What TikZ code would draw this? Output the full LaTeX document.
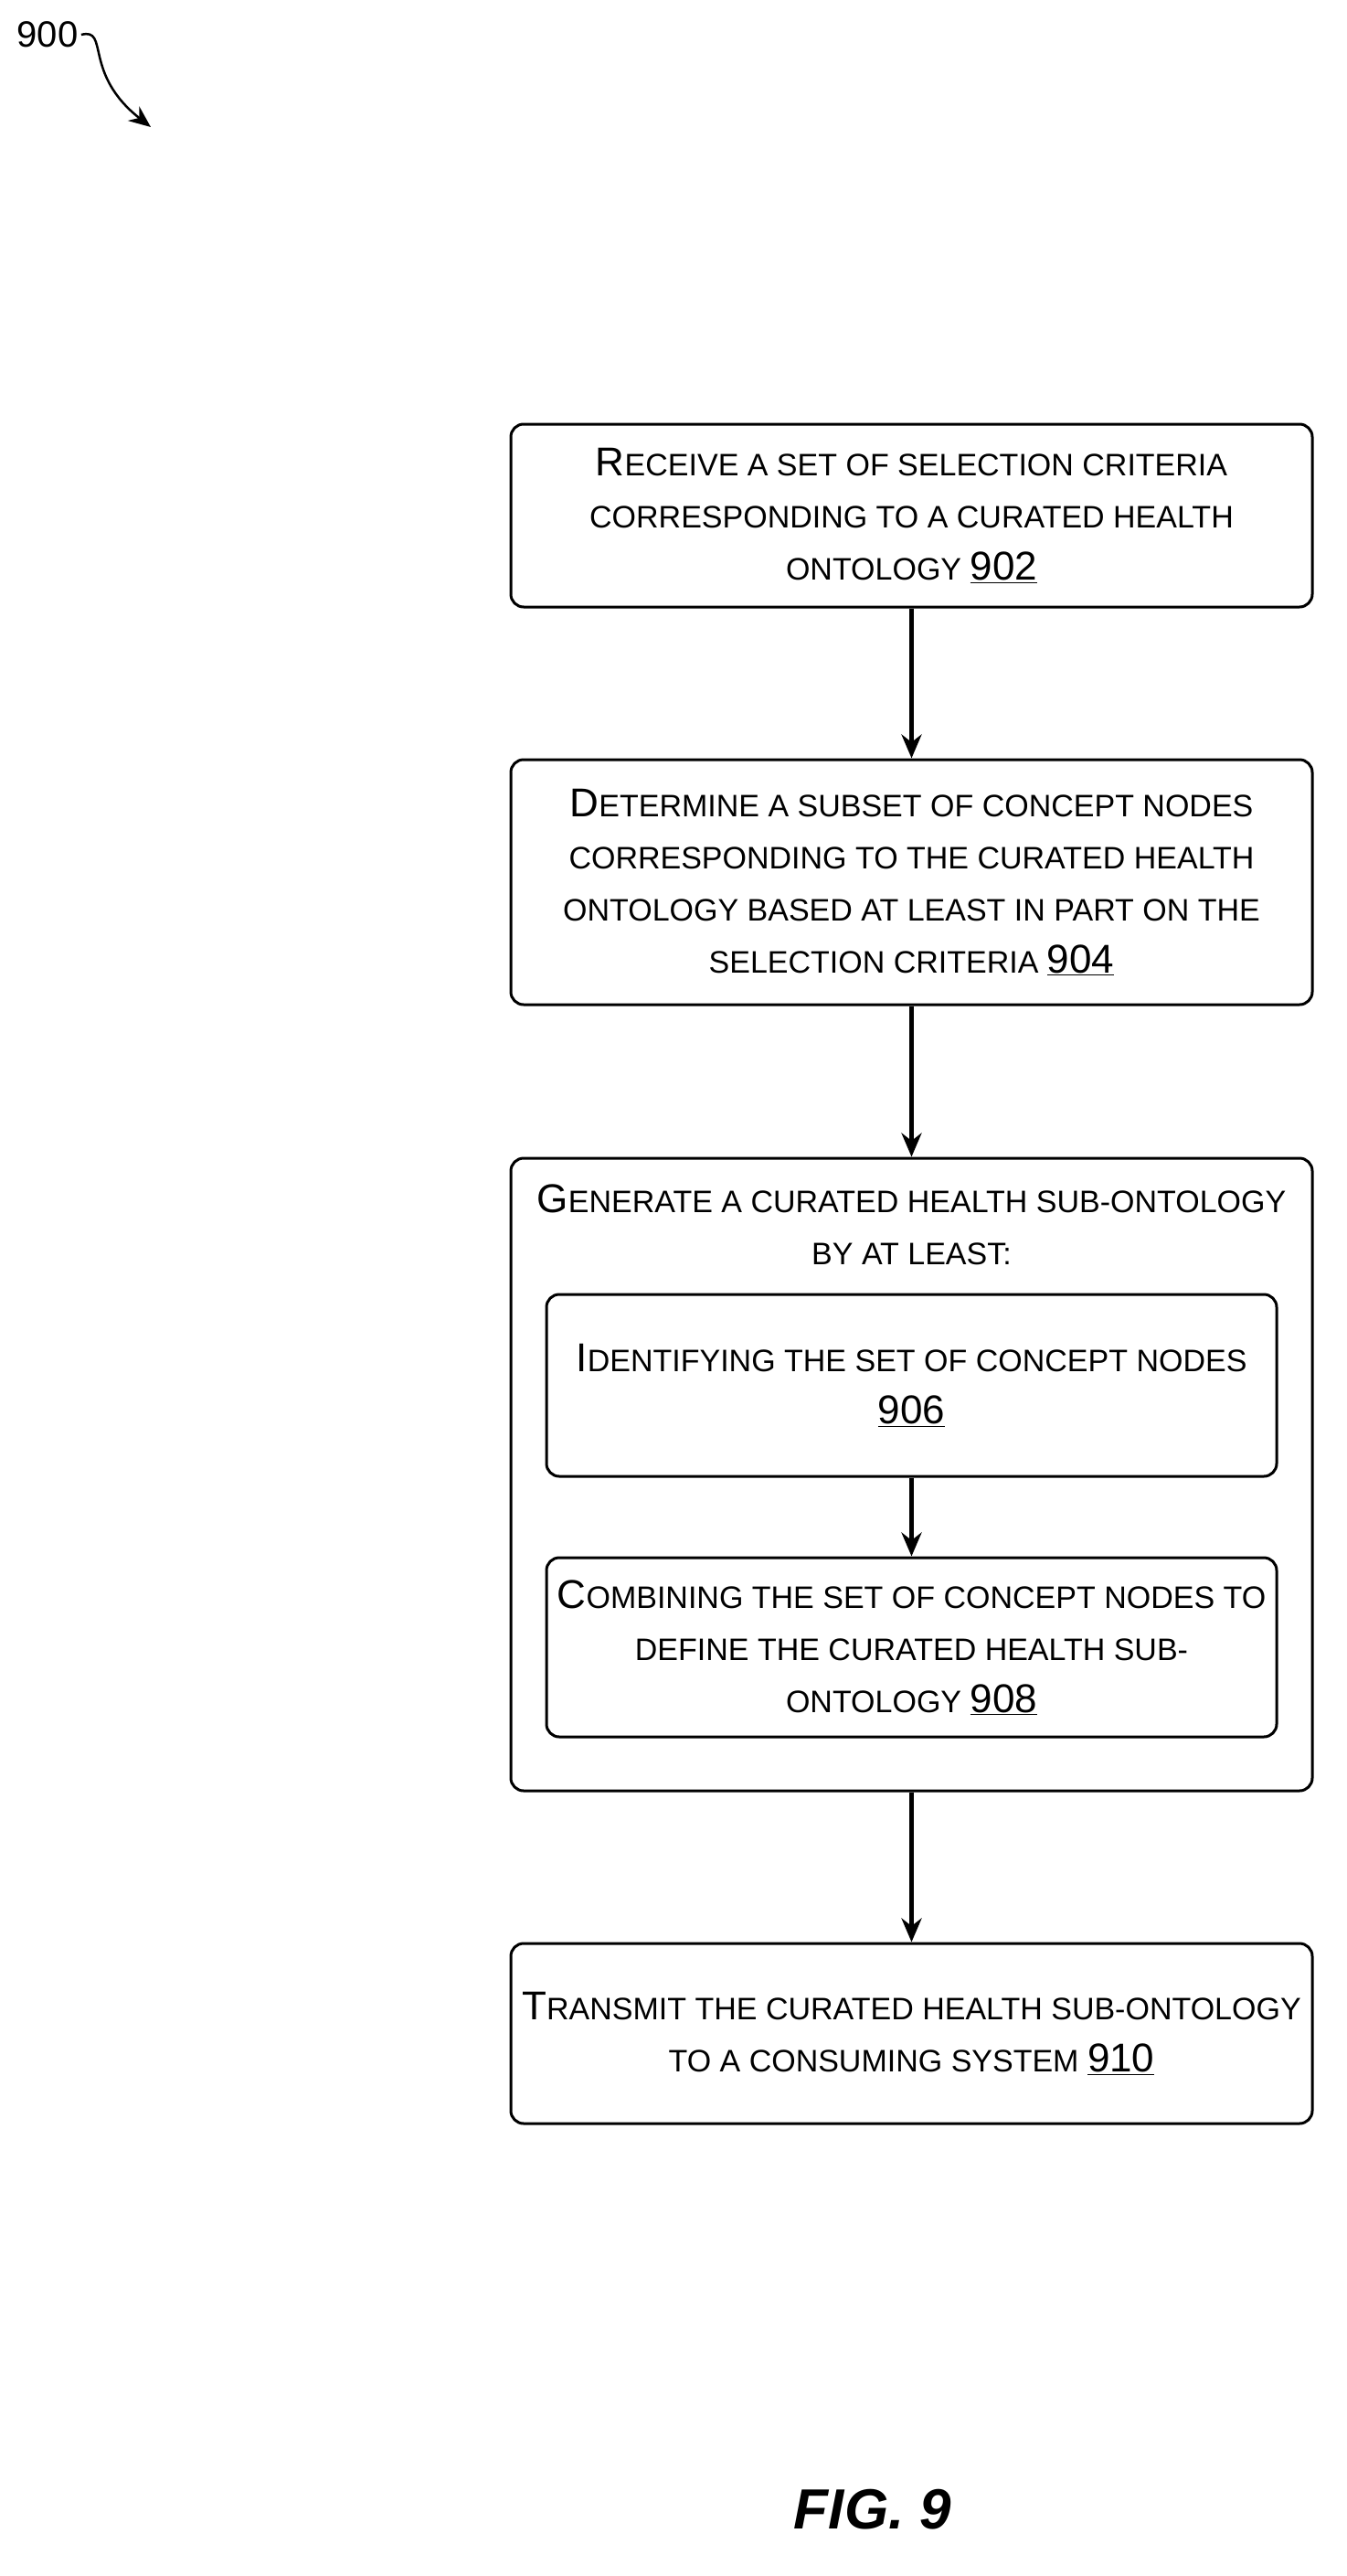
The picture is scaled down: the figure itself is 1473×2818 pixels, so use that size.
\documentclass[tikz,border=0pt]{standalone}
\usepackage{fontspec}
\setmainfont{Liberation Sans}
\usetikzlibrary{arrows.meta}
\newcommand\Bg[1]{{\fontsize{44}{57}\selectfont #1}}
\newcommand\Nm[1]{{\fontsize{44}{57}\selectfont\underline{#1}}}
\begin{document}
\begin{tikzpicture}[x=1pt,y=-1pt,
 box/.style={draw,line width=3pt,rounded corners=14pt,inner sep=0pt},
 txt/.style={align=center,font=\fontsize{34}{57}\selectfont},
 arr/.style={line width=4.5pt,-{Stealth[length=26pt,width=22pt]}}]
\useasboundingbox (0,0) rectangle (1473,2818);
\node[box,minimum width=877pt,minimum height=200pt] (b902) at (997.5,564) {};
\node[txt] (t902) at (b902) {\Bg{R}ECEIVE A SET OF SELECTION CRITERIA\\CORRESPONDING TO A CURATED HEALTH\\ONTOLOGY \Nm{902}};
\node[box,minimum width=877pt,minimum height=268pt] (b904) at (997.5,965) {};
\node[txt] (t904) at (b904) {\Bg{D}ETERMINE A SUBSET OF CONCEPT NODES\\CORRESPONDING TO THE CURATED HEALTH\\ONTOLOGY BASED AT LEAST IN PART ON THE\\SELECTION CRITERIA \Nm{904}};
\node[box,minimum width=877pt,minimum height=692pt] (bgen) at (997.5,1613) {};
\node[txt,anchor=north] (tgen) at (997.5,1292) {\Bg{G}ENERATE A CURATED HEALTH SUB-ONTOLOGY\\BY AT LEAST:};
\node[box,minimum width=799pt,minimum height=199pt] (b906) at (997.5,1515.5) {};
\node[txt] (t906) at (b906) {\Bg{I}DENTIFYING THE SET OF CONCEPT NODES\\\Nm{906}};
\node[box,minimum width=799pt,minimum height=196pt] (b908) at (997.5,1802) {};
\node[txt] (t908) at (b908) {\Bg{C}OMBINING THE SET OF CONCEPT NODES TO\\DEFINE THE CURATED HEALTH SUB-\\ONTOLOGY \Nm{908}};
\node[box,minimum width=877pt,minimum height=197pt] (b910) at (997.5,2224.5) {};
\node[txt] (t910) at (b910) {\Bg{T}RANSMIT THE CURATED HEALTH SUB-ONTOLOGY\\TO A CONSUMING SYSTEM \Nm{910}};
\draw[arr] (b902) -- (b904);
\draw[arr] (b904) -- (bgen);
\draw[arr] (b906) -- (b908);
\draw[arr] (bgen) -- (b910);
\node[font=\fontsize{40}{48}\selectfont] (l900) at (52,38) {900};
\coordinate (a900) at (165,139);
\draw[line width=2.5pt,-{Stealth[length=24pt,width=20pt]}] (l900.east) .. controls (120,30) and (90,80) .. (a900);
\node[font=\fontsize{62}{70}\selectfont\bfseries\itshape] (fig) at (955,2745) {FIG. 9};
\end{tikzpicture}
\end{document}
